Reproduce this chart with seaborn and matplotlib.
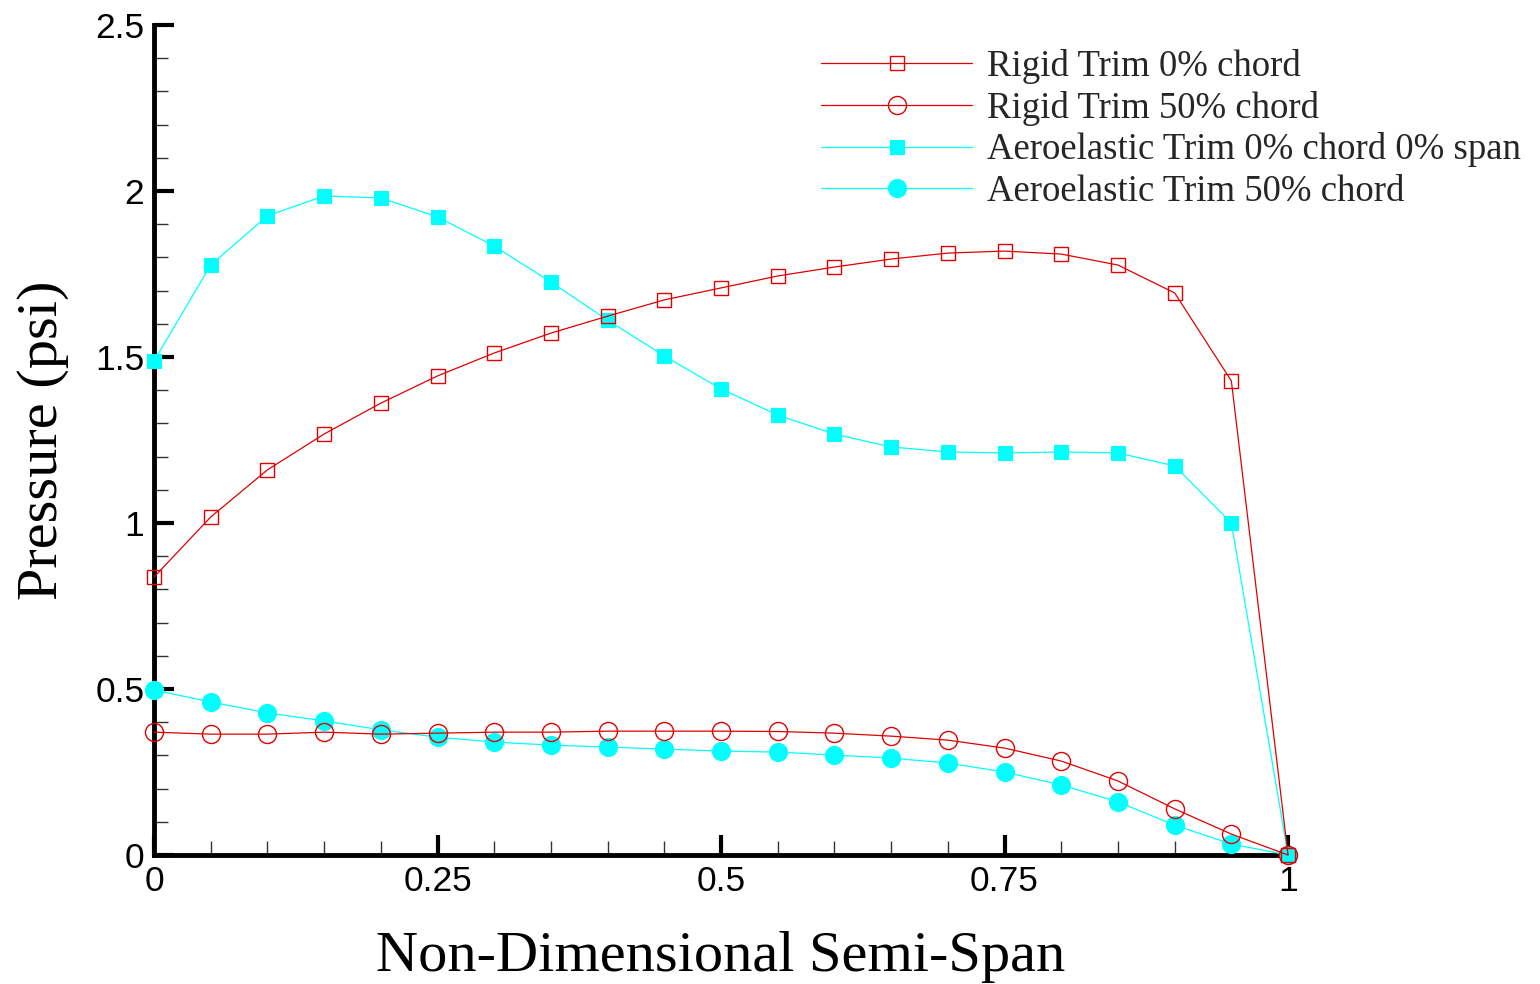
import numpy as np
import pandas as pd
import matplotlib
matplotlib.use("Agg")
import matplotlib.pyplot as plt
from matplotlib.ticker import MultipleLocator, FormatStrFormatter
import seaborn as sns

# Spanwise stations (non-dimensional semi-span)
span = [0.0, 0.05, 0.10, 0.15, 0.20, 0.25, 0.30, 0.35, 0.40, 0.45, 0.50,
        0.55, 0.60, 0.65, 0.70, 0.75, 0.80, 0.85, 0.90, 0.95, 1.0]

# Pressure (psi) along the span for each trim case
rigid_0 = [0.837, 1.018, 1.160, 1.268, 1.361, 1.443, 1.512, 1.572, 1.623, 1.672, 1.708,
           1.744, 1.771, 1.795, 1.813, 1.819, 1.810, 1.777, 1.693, 1.428, 0.0]
rigid_50 = [0.370, 0.364, 0.364, 0.370, 0.364, 0.367, 0.370, 0.370, 0.373, 0.373, 0.373,
            0.372, 0.367, 0.358, 0.346, 0.322, 0.283, 0.223, 0.139, 0.063, 0.0]
aero_0 = [1.488, 1.777, 1.925, 1.985, 1.979, 1.922, 1.834, 1.726, 1.611, 1.503, 1.404,
          1.325, 1.268, 1.229, 1.214, 1.211, 1.214, 1.211, 1.172, 1.000, 0.0]
aero_50 = [0.497, 0.461, 0.428, 0.404, 0.377, 0.355, 0.340, 0.331, 0.325, 0.319, 0.313,
           0.310, 0.301, 0.292, 0.277, 0.250, 0.211, 0.160, 0.090, 0.033, 0.0]

labels = ["Rigid Trim 0% chord", "Rigid Trim 50% chord",
          "Aeroelastic Trim 0% chord 0% span", "Aeroelastic Trim 50% chord"]

sns.set_theme(style="ticks")
plt.rcParams["font.family"] = ["Liberation Sans", "DejaVu Sans"]

RED = "#e00000"
CYAN = "#00ffff"

fig = plt.figure(figsize=(15.4, 9.84), dpi=100)
ax = fig.add_axes([0.1, 0.1311, 0.7364, 0.8435])

df = pd.DataFrame({"span": span, "r0": rigid_0, "r50": rigid_50,
                   "a0": aero_0, "a50": aero_50})

styles = {
    "a0": dict(color=CYAN, marker="s", markersize=10, markerfacecolor=CYAN,
               markeredgecolor=CYAN, markeredgewidth=0.8),
    "a50": dict(color=CYAN, marker="o", markersize=13, markerfacecolor=CYAN,
                markeredgecolor=CYAN, markeredgewidth=0.8),
    "r0": dict(color=RED, marker="s", markersize=9.5, markerfacecolor="none",
               markeredgecolor=RED, markeredgewidth=1.0),
    "r50": dict(color=RED, marker="o", markersize=13, markerfacecolor="none",
                markeredgecolor=RED, markeredgewidth=1.0),
}

handles = {}
for key in ["a0", "a50", "r0", "r50"]:
    sns.lineplot(data=df, x="span", y=key, ax=ax, linewidth=0.9, clip_on=False,
                 zorder=3, **styles[key])
    handles[key] = ax.lines[-1]

ax.set_xlim(0, 1)
ax.set_ylim(0, 2.5)

ax.xaxis.set_major_locator(MultipleLocator(0.25))
ax.xaxis.set_minor_locator(MultipleLocator(0.05))
ax.yaxis.set_major_locator(MultipleLocator(0.5))
ax.yaxis.set_minor_locator(MultipleLocator(0.1))
ax.xaxis.set_major_formatter(FormatStrFormatter("%g"))
ax.yaxis.set_major_formatter(FormatStrFormatter("%g"))

for side in ["top", "right"]:
    ax.spines[side].set_visible(False)
for side in ["left", "bottom"]:
    ax.spines[side].set_linewidth(3.5)
    ax.spines[side].set_color("black")

ax.tick_params(which="major", direction="in", length=14.5, width=3, color="black",
               labelsize=25.5, pad=7, labelcolor="black")
ax.tick_params(which="minor", direction="in", length=10, width=1, color="#333333")

ax.set_xlabel("Non-Dimensional Semi-Span", family="Liberation Serif", fontsize=42,
              labelpad=24, color="black")
ax.set_ylabel("Pressure (psi)", family="Liberation Serif", fontsize=42,
              labelpad=19, color="black")

leg = fig.legend([handles["r0"], handles["r50"], handles["a0"], handles["a50"]], labels,
                 loc="upper left", bbox_to_anchor=(0.5238, 0.965), frameon=False,
                 prop={"family": "Liberation Serif", "size": 26.5},
                 handlelength=4.1, handletextpad=0.4, labelspacing=0.18,
                 borderaxespad=0)

fig.savefig("out.png", dpi=100, facecolor="white")
